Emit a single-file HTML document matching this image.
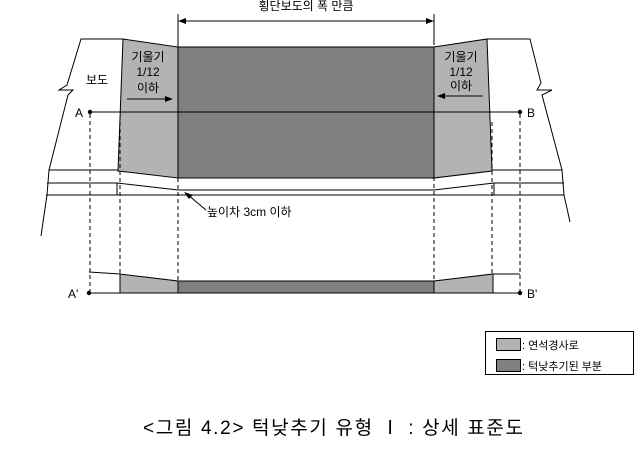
<!DOCTYPE html>
<html><head><meta charset="utf-8"><style>
body{margin:0;background:#fff}
svg text{font-family:"Liberation Sans","Noto Sans CJK KR",sans-serif;fill:#000}
</style></head><body>
<svg width="641" height="456" viewBox="0 0 641 456" xmlns="http://www.w3.org/2000/svg">
<g stroke="#000" stroke-width="1" fill="none">
<polygon points="123,39 178,47 178,178 118,171" fill="#b3b3b3" stroke="#000"/>
<polygon points="178,47 434,47 434,178 178,178" fill="#808080" stroke="#000"/>
<polygon points="434,47 487,39 492,171 434,178" fill="#b3b3b3" stroke="#000"/>
<polyline points="123,39 81,39 67,85 59,90 73,90 68,95 49,170 47,195 41,236"/>
<polyline points="487,39 530,39 541,83 537,90 552,90 542,95 562,170 564,195 570,222"/>
<line x1="49" y1="170" x2="118" y2="170"/>
<line x1="47" y1="183" x2="117" y2="183"/>
<line x1="117" y1="183" x2="117" y2="195"/>
<line x1="46" y1="195" x2="564" y2="195"/>
<polyline points="117,183 178,190 434,190 494,183 564,183"/>
<line x1="494" y1="183" x2="494" y2="195"/>
<line x1="492" y1="170" x2="562" y2="170"/>
<line x1="90" y1="112" x2="520" y2="112"/>
<line x1="178" y1="14" x2="178" y2="47"/>
<line x1="434" y1="14" x2="434" y2="45"/>
<line x1="180" y1="21" x2="432" y2="21"/>
<line x1="127" y1="99" x2="168" y2="99"/>
<line x1="442" y1="96" x2="483" y2="96"/>
<g stroke-dasharray="4,3">
<line x1="90" y1="114" x2="90" y2="293"/>
<line x1="120" y1="122" x2="120" y2="293"/>
<line x1="178" y1="178" x2="178" y2="293"/>
<line x1="434" y1="114" x2="434" y2="293"/>
<line x1="492" y1="122" x2="492" y2="293"/>
<line x1="520" y1="114" x2="520" y2="293"/>
</g>
<line x1="187" y1="194" x2="206" y2="210"/>
<polyline points="89,272 120,274"/>
<polygon points="120,274 178,281 178,293 120,293" fill="#b3b3b3"/>
<polygon points="178,281 434,281 434,293 178,293" fill="#808080"/>
<polygon points="434,281 493,274 493,293 434,293" fill="#b3b3b3"/>
<line x1="493" y1="274" x2="520" y2="274"/>
<line x1="89" y1="293" x2="520" y2="293"/>
<rect x="485.5" y="331.5" width="148" height="43" fill="#fff"/>
<rect x="496.5" y="338.5" width="24" height="12" fill="#b3b3b3"/>
<rect x="496.5" y="359.5" width="24" height="12" fill="#808080"/>
</g>
<g fill="#000">
<polygon points="178,21 186,18 186,24"/>
<polygon points="434,21 426,18 426,24"/>
<polygon points="173,99 165,96 165,102"/>
<polygon points="437,96 445,93 445,99"/>
<polygon points="184,192 193,195 189,199"/>
<circle cx="90" cy="112" r="2.2"/><circle cx="520" cy="112" r="2.2"/>
<circle cx="89" cy="293" r="2.2"/><circle cx="520" cy="293" r="2.2"/>
</g>
<g font-size="12">
<text x="306" y="10" text-anchor="middle">횡단보도의 폭 만큼</text>
<text x="97" y="84" text-anchor="middle">보도</text>
<text x="148" y="61" text-anchor="middle">기울기</text>
<text x="148" y="76" text-anchor="middle">1/12</text>
<text x="148" y="92" text-anchor="middle">이하</text>
<text x="461" y="61" text-anchor="middle">기울기</text>
<text x="461" y="76" text-anchor="middle">1/12</text>
<text x="461" y="90" text-anchor="middle">이하</text>
<text x="75" y="117">A</text>
<text x="527" y="117">B</text>
<text x="68" y="298">A'</text>
<text x="527" y="298">B'</text>
<text x="207" y="216">높이차 3cm 이하</text>
<text x="522" y="349" font-size="11">: 연석경사로</text>
<text x="522" y="370" font-size="11">: 턱낮추기된 부분</text>
</g>
<text x="143" y="434" font-size="19" textLength="380" lengthAdjust="spacing">&lt;그림 4.2&gt; 턱낮추기 유형 Ⅰ : 상세 표준도</text>
</svg>
</body></html>
